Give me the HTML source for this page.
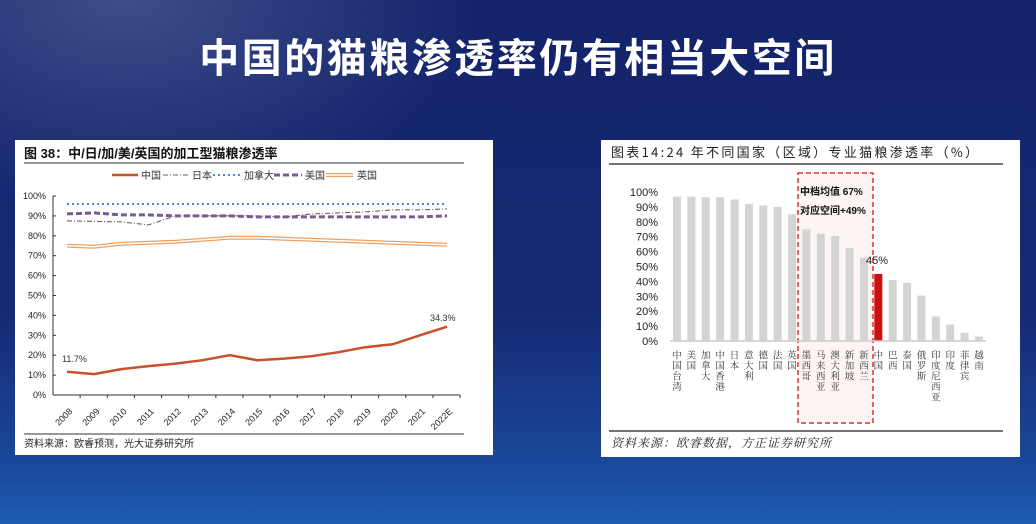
<!DOCTYPE html>
<html><head><meta charset="utf-8"><style>
body{margin:0;width:1036px;height:524px;overflow:hidden;font-family:"Liberation Sans","Noto Sans CJK SC",sans-serif;
background:radial-gradient(ellipse at 12% 0%,#3e4e8a 0%,rgba(20,36,100,0) 28%),linear-gradient(180deg,#13236a 0%,#162a74 60%,#1a4a9c 90%,#1d5cb0 100%);}
.t{position:absolute;left:0;width:1036px;top:26px;text-align:center;color:#fff;font-weight:bold;font-size:40px;letter-spacing:2.5px;font-family:"Noto Sans CJK SC",sans-serif}
svg{position:absolute;left:0;top:0}
</style></head><body>
<div class="t">中国的猫粮渗透率仍有相当大空间</div>
<svg id="s" width="1036" height="524" font-family="Liberation Sans, Noto Sans CJK SC, sans-serif"></svg>
<script>
let h='';
h+='<rect x="15" y="140" width="478" height="315" fill="#fff"/>';
h+='<text x="24" y="158" font-size="13" font-weight="bold" fill="#111">图 38：中/日/加/美/英国的加工型猫粮渗透率</text>';
h+='<line x1="24" y1="163" x2="464" y2="163" stroke="#333" stroke-width="1"/>';
h+='<line x1="112" y1="175" x2="138" y2="175" stroke="#c8502a" stroke-width="2.5"/><text x="141" y="179" font-size="10" fill="#333">中国</text>';
h+='<line x1="163" y1="175" x2="188" y2="175" stroke="#666" stroke-width="1" stroke-dasharray="5,2,1,2"/><text x="192" y="179" font-size="10" fill="#333">日本</text>';
h+='<line x1="213" y1="175" x2="240" y2="175" stroke="#4a86d8" stroke-width="2" stroke-dasharray="2,3"/><text x="244" y="179" font-size="10" fill="#333">加拿大</text>';
h+='<line x1="274" y1="175" x2="302" y2="175" stroke="#7a5a90" stroke-width="3" stroke-dasharray="6,3"/><text x="305" y="179" font-size="10" fill="#333">美国</text>';
h+='<line x1="326" y1="175" x2="353" y2="175" stroke="#f0a060" stroke-width="4"/><line x1="326" y1="175" x2="353" y2="175" stroke="#fff" stroke-width="1.5"/><text x="357" y="179" font-size="10" fill="#333">英国</text>';
const Y=v=>395-v*1.99, X=i=>67+i*27.14;
for(let k=0;k<=10;k++){h+=`<text x="46" y="${Y(k*10)+3}" font-size="9" text-anchor="end" fill="#222">${k*10}%</text><line x1="53" y1="${Y(k*10)}" x2="56" y2="${Y(k*10)}" stroke="#333"/>`;}
h+='<line x1="53" y1="196" x2="53" y2="395" stroke="#333"/><line x1="53" y1="395" x2="460" y2="395" stroke="#333"/>';
const yrs=['2008','2009','2010','2011','2012','2013','2014','2015','2016','2017','2018','2019','2020','2021','2022E'];
yrs.forEach((y,i)=>{h+=`<line x1="${53+(i+1)*27.14}" y1="395" x2="${53+(i+1)*27.14}" y2="398" stroke="#333"/><text transform="translate(${X(i)+6},${412}) rotate(-45)" font-size="9" text-anchor="end" fill="#222">${y}</text>`;});
const pl=(d,st)=>'<polyline fill="none" points="'+d.map((v,i)=>X(i).toFixed(1)+','+Y(v).toFixed(1)).join(' ')+'" '+st+'/>';
h+=pl([96,96,96,96,96,96,96,96,96,96,96,96,96,96,96],'stroke="#4a86d8" stroke-width="2" stroke-dasharray="2,3"');
h+=pl([87.5,87.3,87,85.5,90,90,90,90,89.5,91,91.5,92,93,93,93.5],'stroke="#555" stroke-width="1" stroke-dasharray="5,2,1,2"');
h+=pl([91,91.5,90.5,90.5,90,90,90,89.5,89.5,89.5,89.5,89.5,89.5,89.5,90],'stroke="#7a5a90" stroke-width="3" stroke-dasharray="6,3"');
const uk=[75,74.5,76,76.5,77,78,79,79,78.5,78,77.5,77,76.5,76,75.5];
h+=pl(uk,'stroke="#f0a060" stroke-width="4"')+pl(uk,'stroke="#fff" stroke-width="1.5"');
h+=pl([11.7,10.5,13,14.5,15.8,17.5,20,17.5,18.3,19.5,21.5,24,25.5,30,34.3],'stroke="#c8502a" stroke-width="2.5"');
h+='<text x="62" y="362" font-size="9" fill="#333">11.7%</text><text x="430" y="321" font-size="9" fill="#333">34.3%</text>';
h+='<line x1="24" y1="434" x2="464" y2="434" stroke="#333"/><text x="24" y="447" font-size="10" fill="#222">资料来源：欧睿预测，光大证券研究所</text>';
h+='<rect x="601" y="140" width="419" height="317" fill="#fff"/>';
h+='<text x="611" y="157" font-size="13" letter-spacing="2.3" fill="#222" font-family="Noto Sans CJK SC, sans-serif">图表14:24 年不同国家（区域）专业猫粮渗透率（%）</text>';
h+='<line x1="609" y1="164" x2="1003" y2="164" stroke="#222" stroke-width="1.2"/>';
h+='<rect x="798" y="173" width="75" height="250" fill="#fdf4f4" stroke="#e03030" stroke-width="1.5" stroke-dasharray="5,3"/>';
const RY=v=>341-v*1.49;
for(let k=0;k<=10;k++)h+=`<text x="658" y="${RY(k*10)+4}" font-size="11" text-anchor="end" fill="#222">${k*10}%</text>`;
const names=['中国台湾','美国','加拿大','中国香港','日本','意大利','德国','法国','英国','墨西哥','马来西亚','澳大利亚','新加坡','新西兰','中国','巴西','泰国','俄罗斯','印度尼西亚','印度','菲律宾','越南'];
const vals=[97,97,96.5,96.5,95,92,91,90,85,75,72,70.5,62.5,56,45,41,39,30.5,16.5,11,5.5,3];
vals.forEach((v,i)=>{const cx=677+i*14.38;h+=`<rect x="${cx-4}" y="${RY(v)}" width="8" height="${v*1.49}" fill="${i==14?'#d01010':'#d4d4d4'}"/>`;
h+=`<text x="${cx}" y="350" font-size="9.5" letter-spacing="1" fill="#333" style="writing-mode:vertical-rl" font-family="Noto Serif CJK SC, serif">${names[i]}</text>`;});
h+='<line x1="670" y1="341" x2="986" y2="341" stroke="#ccc" stroke-width="1.5"/>';
h+='<text x="866" y="264" font-size="11" fill="#222">45%</text>';
h+='<text x="800" y="195" font-size="10" font-weight="bold" fill="#111">中档均值 67%</text><text x="800" y="214" font-size="10" font-weight="bold" fill="#111">对应空间+49%</text>';
h+='<line x1="609" y1="431" x2="1003" y2="431" stroke="#222" stroke-width="1.2"/>';
h+='<text x="611" y="447" font-size="12" font-style="italic" letter-spacing="1" fill="#222" font-family="Noto Serif CJK SC, serif">资料来源：欧睿数据，方正证券研究所</text>';
document.getElementById('s').innerHTML=h;
</script>
</body></html>
